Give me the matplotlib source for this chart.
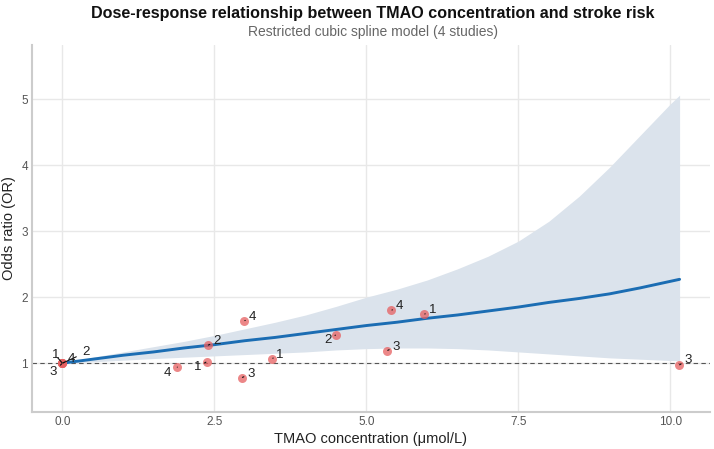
"""TMAO dose-response figure: restricted cubic spline fit with 95% CI and study points."""

import matplotlib
matplotlib.use("Agg")
import matplotlib.pyplot as plt
import seaborn as sns

# spline fit (at these doses)
dose_grid = [0, 0.5, 1, 1.5, 2, 2.5, 3, 3.5, 4, 4.5, 5, 5.5, 6, 6.5, 7, 7.5,
             8, 8.5, 9, 9.5, 10, 10.15]
or_fit = [1.0, 1.06, 1.12, 1.17, 1.23, 1.28, 1.34, 1.39, 1.45, 1.51, 1.57, 1.62,
          1.68, 1.73, 1.79, 1.85, 1.92, 1.98, 2.05, 2.14, 2.24, 2.27]
ci_low = [1.0, 1.02, 1.045, 1.07, 1.09, 1.11, 1.13, 1.15, 1.17, 1.20, 1.22, 1.23,
          1.23, 1.22, 1.20, 1.17, 1.14, 1.11, 1.08, 1.06, 1.04, 1.035]
ci_high = [1.0, 1.09, 1.17, 1.25, 1.33, 1.42, 1.52, 1.62, 1.73, 1.86, 2.0, 2.12,
           2.26, 2.43, 2.62, 2.85, 3.15, 3.53, 3.97, 4.45, 4.93, 5.06]

# observed study-level points
study_id = [1, 2, 3, 4, 4, 1, 2, 4, 3, 1, 2, 3, 4, 1, 3]
study_dose = [0, 0, 0, 0, 1.89, 2.37, 2.39, 2.99, 2.95, 3.45, 4.50, 5.34, 5.41, 5.95, 10.14]
study_or = [1.0, 1.0, 1.0, 1.0, 0.94, 1.02, 1.27, 1.64, 0.78, 1.07, 1.43, 1.19, 1.80, 1.74, 0.97]

# label offsets in pixels (dx, dy), mimicking the repel layout
label_off = [(-7, 8), (24, 11), (-9, -9), (9, 4), (-10, -6), (-9, -5), (9, 4), (8, 4),
             (9, 4), (8, 4), (-8, -5), (9, 4), (8, 4), (8, 4), (9, 5)]

sns.set_style("whitegrid")
plt.rcParams["font.family"] = ["Liberation Sans", "DejaVu Sans"]

fig = plt.figure(figsize=(7.14, 4.49), dpi=100)
ax = fig.add_axes([32 / 714, 37 / 449, 678 / 714, 367 / 449])

ax.fill_between(dose_grid, ci_low, ci_high, color="#dbe3ec", lw=0, zorder=1)
ax.axhline(1, color="#555555", ls=(0, (4, 3)), lw=0.8, zorder=2)
ax.plot(dose_grid, or_fit, color="#1b6db3", lw=2.1, zorder=3)
ax.scatter(study_dose, study_or, s=42, color="#e65f60", alpha=0.75, lw=0, zorder=4)

for sid, x, y, (dx, dy) in zip(study_id, study_dose, study_or, label_off):
    ax.annotate(str(sid), xy=(x, y), xytext=(dx, dy), textcoords="offset pixels",
                ha="center", va="center", fontsize=9.5, color="#222222", zorder=5,
                arrowprops=dict(arrowstyle="-", color="#111111", lw=0.8,
                                shrinkA=2.5, shrinkB=0.5))

ax.set_xlim(-0.5, 10.65)
ax.set_ylim(0.26, 5.82)
ax.set_xticks([0, 2.5, 5, 7.5, 10])
ax.set_xticklabels(["0.0", "2.5", "5.0", "7.5", "10.0"])
ax.set_yticks([1, 2, 3, 4, 5])
ax.tick_params(labelsize=8.5, colors="#555555", pad=3, length=0)
ax.grid(color="#e8e8e8", lw=1)

for side in ("top", "right"):
    ax.spines[side].set_visible(False)
for side in ("left", "bottom"):
    ax.spines[side].set_color("#cccccc")
    ax.spines[side].set_linewidth(1.5)

ax.set_xlabel("TMAO concentration (μmol/L)", fontsize=10.5, color="#222222", labelpad=3)
ax.set_ylabel("Odds ratio (OR)", fontsize=10.5, color="#222222", labelpad=4)

fig.text(0.522, 0.971, "Dose-response relationship between TMAO concentration and stroke risk",
         ha="center", va="center", fontsize=11.6, fontweight="bold", color="#111111")
fig.text(0.522, 0.929, "Restricted cubic spline model (4 studies)",
         ha="center", va="center", fontsize=10, color="#666666")

fig.savefig("out.png", dpi=100)
